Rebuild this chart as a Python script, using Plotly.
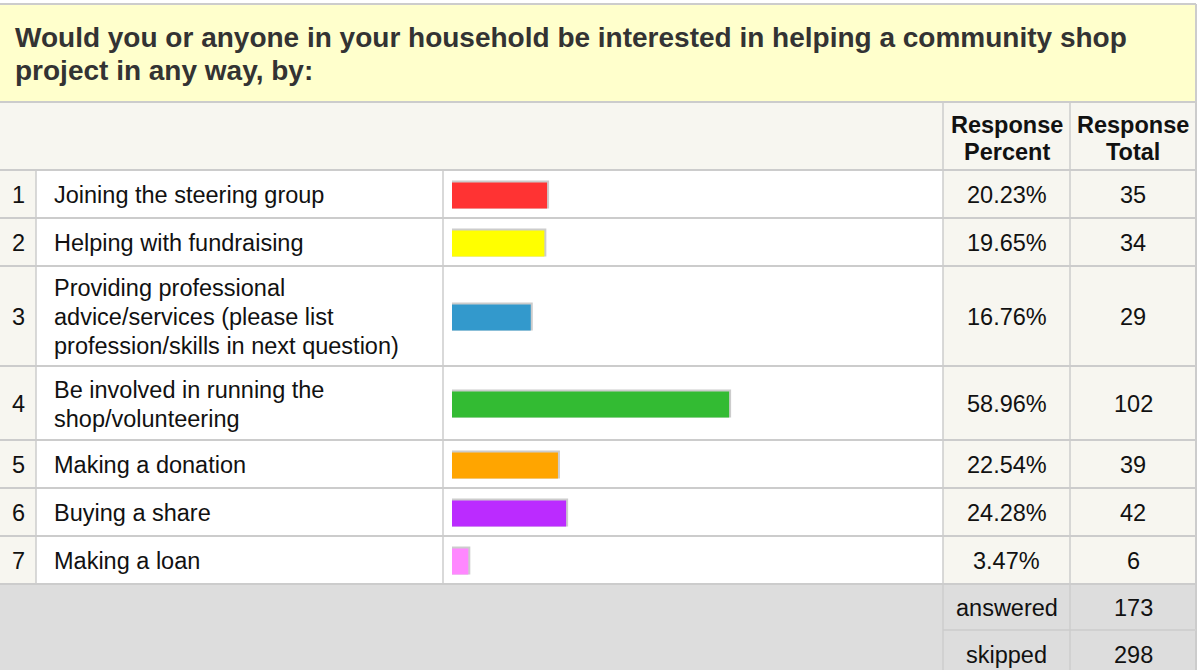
import plotly.graph_objects as go

# ---------------- data ----------------
question_lines = [
    "Would you or anyone in your household be interested in helping a community shop",
    "project in any way, by:",
]
header_percent = ["Response", "Percent"]
header_total = ["Response", "Total"]
row_numbers = ["1", "2", "3", "4", "5", "6", "7"]
answer_labels = [
    ["Joining the steering group"],
    ["Helping with fundraising"],
    ["Providing professional", "advice/services (please list", "profession/skills in next question)"],
    ["Be involved in running the", "shop/volunteering"],
    ["Making a donation"],
    ["Buying a share"],
    ["Making a loan"],
]
response_percent = [20.23, 19.65, 16.76, 58.96, 22.54, 24.28, 3.47]
response_total = [35, 34, 29, 102, 39, 42, 6]
bar_colors = ["#FF3333", "#FFFF00", "#3399CC", "#33BB33", "#FFA500", "#BB2BFF", "#FF88FF"]
summary_labels = ["answered", "skipped"]
summary_values = [173, 298]

# ---------------- layout constants (pixels) ----------------
W, H = 1198, 670
FONT = "Liberation Sans, Arial, Helvetica, sans-serif"
LINE = "#CCCCCC"
TOP = 4
TITLE_B = 102
HEAD_B = 170
NUM_R = 36
LABEL_X = 52
BAR_COL_L = 443
BAR_X0 = 452
BAR_FULL = 470
PCT_L = 943
TOT_L = 1070
RIGHT = 1196
ROW_H = 48
EXTRA_LINE = 26
BODY_FS = 23.5
BODY_LS = 29

# row geometry
row_tops = []
y = HEAD_B
for lab in answer_labels:
    row_tops.append(y)
    y += ROW_H + EXTRA_LINE * (len(lab) - 1)
row_bottoms = row_tops[1:] + [y]
BODY_B = y
row_centers = [(a + b) / 2 for a, b in zip(row_tops, row_bottoms)]
foot_tops = [BODY_B, BODY_B + 46]
foot_bottoms = [BODY_B + 46, BODY_B + 93]


def px(x):
    return x / W


shapes = []


def rect(x0, y0, x1, y1, fill):
    shapes.append(dict(type="rect", xref="paper", yref="y", x0=px(x0), x1=px(x1), y0=y0, y1=y1,
                       fillcolor=fill, line=dict(width=0), layer="below"))


def seg(x0, y0, x1, y1, w=2, color=LINE):
    shapes.append(dict(type="line", xref="paper", yref="y", x0=px(x0), x1=px(x1), y0=y0, y1=y1,
                       line=dict(color=color, width=w), layer="below"))


# backgrounds
rect(0, TOP, RIGHT, TITLE_B, "#FFFFCC")
rect(0, TITLE_B, RIGHT, HEAD_B, "#F7F6F0")
rect(0, HEAD_B, NUM_R, BODY_B, "#F7F6F0")
rect(PCT_L, HEAD_B, RIGHT, BODY_B, "#F7F6F0")
rect(0, BODY_B, RIGHT, H + 10, "#DDDDDD")

# borders / grid
seg(0, TOP, RIGHT, TOP)
seg(RIGHT, TOP, RIGHT, H + 10)
seg(0, TITLE_B, RIGHT, TITLE_B)
seg(0, HEAD_B, RIGHT, HEAD_B)
for b in row_bottoms:
    seg(0, b, RIGHT, b)
seg(PCT_L, foot_bottoms[0], RIGHT, foot_bottoms[0], w=2, color="#D0D0D0")
seg(NUM_R, HEAD_B, NUM_R, BODY_B, w=1.5)
seg(BAR_COL_L, HEAD_B, BAR_COL_L, BODY_B, w=1.5)
seg(PCT_L, TITLE_B, PCT_L, H + 10, w=1.5)
seg(TOT_L, TITLE_B, TOT_L, H + 10, w=1.5)

annotations = []


def txt(x, yy, s, size=BODY_FS, bold=False, color="#111111", anchor="left"):
    if bold:
        s = "<b>" + s + "</b>"
    annotations.append(dict(xref="paper", yref="y", x=px(x), y=yy, text=s, showarrow=False,
                            xanchor=anchor, yanchor="middle",
                            font=dict(family=FONT, size=size, color=color)))


# title
for i, line in enumerate(question_lines):
    txt(13, 37 + 33 * i, line, size=28, bold=True, color="#333333")

# headers
pct_c = (PCT_L + TOT_L) / 2
tot_c = (TOT_L + RIGHT) / 2
for i, line in enumerate(header_percent):
    txt(pct_c, 125 + 27 * i, line, bold=True, anchor="center")
for i, line in enumerate(header_total):
    txt(tot_c, 125 + 27 * i, line, bold=True, anchor="center")

# body rows
for k, lab in enumerate(answer_labels):
    c = row_centers[k] + 1
    txt(NUM_R / 2, c, row_numbers[k], anchor="center")
    n = len(lab)
    for i, line in enumerate(lab):
        txt(LABEL_X, c + (i - (n - 1) / 2) * BODY_LS, line)
    txt(pct_c, c, f"{response_percent[k]:.2f}%", anchor="center")
    txt(tot_c, c, str(response_total[k]), anchor="center")

# footer
for k in range(2):
    c = (foot_tops[k] + foot_bottoms[k]) / 2 + 1
    txt(pct_c, c, summary_labels[k], anchor="center")
    txt(tot_c, c, str(summary_values[k]), anchor="center")

# bars (through axis x: 0..100 percent)
shadow_extra = 2 * 100 / BAR_FULL
fig = go.Figure()
fig.add_trace(go.Bar(
    x=[v + shadow_extra for v in response_percent],
    y=[c + 0.5 for c in row_centers],
    width=28, orientation="h", marker=dict(color="#CCCCCC", line=dict(width=0)),
    hoverinfo="skip", showlegend=False))
fig.add_trace(go.Bar(
    x=response_percent,
    y=[c + 1.5 for c in row_centers],
    width=26, orientation="h", marker=dict(color=bar_colors, line=dict(width=0)),
    showlegend=False,
    hovertemplate="%{x:.2f}%<extra></extra>"))

fig.update_layout(
    width=W, height=H,
    margin=dict(l=0, r=0, t=0, b=0),
    paper_bgcolor="white", plot_bgcolor="rgba(0,0,0,0)",
    barmode="overlay",
    xaxis=dict(domain=[BAR_X0 / W, (BAR_X0 + BAR_FULL) / W], range=[0, 100], visible=False,
               fixedrange=True),
    yaxis=dict(domain=[0, 1], range=[H, 0], visible=False, fixedrange=True),
    shapes=shapes,
    annotations=annotations,
    showlegend=False,
)

fig.write_html("out.html")
